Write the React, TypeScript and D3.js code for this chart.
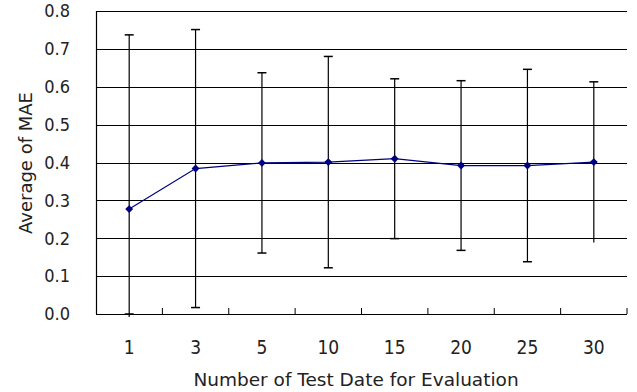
import React, { useEffect, useRef } from "react";
import * as d3 from "d3";

const categories = ["1", "3", "5", "10", "15", "20", "25", "30"];
const meanMAE = [0.277, 0.384, 0.399, 0.401, 0.41, 0.392, 0.392, 0.401];
const sdMAE = [0.46, 0.367, 0.238, 0.279, 0.211, 0.224, 0.254, 0.212];
const yTicks = [0, 0.1, 0.2, 0.3, 0.4, 0.5, 0.6, 0.7, 0.8];

const WIDTH = 637;
const HEIGHT = 392;
const MARGIN = { top: 11, right: 10, bottom: 78, left: 96 };

const App = () => {
  const ref = useRef<SVGSVGElement>(null);

  useEffect(() => {
    const INNER_WIDTH = WIDTH - MARGIN.left - MARGIN.right;
    const INNER_HEIGHT = HEIGHT - MARGIN.top - MARGIN.bottom;
    const font = "'Liberation Sans Narrow', 'DejaVu Sans Condensed', 'Liberation Sans', sans-serif";
    const wideFont = "'DejaVu Sans', sans-serif";

    const x = d3.scaleBand().domain(categories).range([0, INNER_WIDTH]);
    const y = d3.scaleLinear().domain([0, 0.8]).range([INNER_HEIGHT, 0]);

    const root = d3.select(ref.current);
    root.selectAll("*").remove();
    const svg = root
      .append("g")
      .attr("transform", "translate(" + MARGIN.left + "," + MARGIN.top + ")");

    /* gridlines */
    svg
      .selectAll(".grid")
      .data(yTicks.filter((d) => d > 0))
      .enter()
      .append("line")
      .attr("x1", 0)
      .attr("x2", INNER_WIDTH)
      .attr("y1", (d) => Math.round(y(d)) + 0.5)
      .attr("y2", (d) => Math.round(y(d)) + 0.5)
      .attr("stroke", "#000")
      .attr("stroke-width", 1.2);

    /* axes */
    svg
      .append("line")
      .attr("x1", 0.5)
      .attr("x2", 0.5)
      .attr("y1", 0)
      .attr("y2", INNER_HEIGHT)
      .attr("stroke", "#000")
      .attr("stroke-width", 1.2);
    svg
      .append("line")
      .attr("x1", 0)
      .attr("x2", INNER_WIDTH)
      .attr("y1", INNER_HEIGHT + 0.5)
      .attr("y2", INNER_HEIGHT + 0.5)
      .attr("stroke", "#000")
      .attr("stroke-width", 1.2);

    /* category ticks, pointing up */
    svg
      .selectAll(".xtick")
      .data(categories)
      .enter()
      .append("line")
      .attr("x1", (d) => (x(d) as number) + x.bandwidth())
      .attr("x2", (d) => (x(d) as number) + x.bandwidth())
      .attr("y1", INNER_HEIGHT)
      .attr("y2", INNER_HEIGHT - 6)
      .attr("stroke", "#000");

    /* y tick labels */
    svg
      .selectAll(".ylab")
      .data(yTicks)
      .enter()
      .append("text")
      .attr("x", -26)
      .attr("y", (d) => y(d))
      .attr("dy", "0.35em")
      .attr("text-anchor", "end")
      .attr("font-family", font)
      .attr("font-size", 18)
      .attr("fill", "#222")
      .text((d) => d.toFixed(1));

    /* x tick labels */
    svg
      .selectAll(".xlab")
      .data(categories)
      .enter()
      .append("text")
      .attr("x", (d) => (x(d) as number) + x.bandwidth() / 2)
      .attr("y", INNER_HEIGHT + 40)
      .attr("text-anchor", "middle")
      .attr("font-family", font)
      .attr("font-size", 19)
      .attr("fill", "#222")
      .text((d) => d);

    /* error bars */
    const cx = (i: number) => (x(categories[i]) as number) + x.bandwidth() / 2;
    const lo = (i: number) => y(Math.max(meanMAE[i] - sdMAE[i], 0));
    const hi = (i: number) => y(meanMAE[i] + sdMAE[i]);
    const bars = svg.selectAll(".err").data(meanMAE).enter().append("g");
    bars
      .append("line")
      .attr("x1", (d, i) => cx(i))
      .attr("x2", (d, i) => cx(i))
      .attr("y1", (d, i) => hi(i))
      .attr("y2", (d, i) => (meanMAE[i] - sdMAE[i] < 0 ? INNER_HEIGHT + 3 : lo(i)))
      .attr("stroke", "#000")
      .attr("stroke-width", 1.2);
    bars
      .append("line")
      .attr("x1", (d, i) => cx(i) - 4.5)
      .attr("x2", (d, i) => cx(i) + 4.5)
      .attr("y1", (d, i) => hi(i))
      .attr("y2", (d, i) => hi(i))
      .attr("stroke", "#000")
      .attr("stroke-width", 1.5);
    bars
      .filter((d, i) => meanMAE[i] - sdMAE[i] >= 0)
      .append("line")
      .attr("x1", (d, i) => cx(i) - 4.5)
      .attr("x2", (d, i) => cx(i) + 4.5)
      .attr("y1", (d, i) => lo(i))
      .attr("y2", (d, i) => lo(i))
      .attr("stroke", "#000")
      .attr("stroke-width", 1.5);

    /* mean line */
    const line = d3
      .line<number>()
      .x((d, i) => cx(i))
      .y((d) => y(d));
    svg
      .append("path")
      .datum(meanMAE)
      .attr("fill", "none")
      .attr("stroke", "#000080")
      .attr("stroke-width", 1.2)
      .attr("d", line);

    svg
      .selectAll(".pt")
      .data(meanMAE)
      .enter()
      .append("path")
      .attr("d", d3.symbol().type(d3.symbolDiamond2).size(40)())
      .attr("transform", (d, i) => "translate(" + cx(i) + "," + y(d) + ")")
      .attr("fill", "#000080");

    /* axis titles */
    svg
      .append("text")
      .attr("x", 356 - MARGIN.left)
      .attr("y", INNER_HEIGHT + 72)
      .attr("text-anchor", "middle")
      .attr("font-family", wideFont)
      .attr("font-size", 18.5)
      .attr("fill", "#222")
      .text("Number of Test Date for Evaluation");
    svg
      .append("text")
      .attr("transform", "translate(" + (32 - MARGIN.left) + "," + (163 - MARGIN.top) + ") rotate(-90)")
      .attr("text-anchor", "middle")
      .attr("font-family", wideFont)
      .attr("font-size", 18)
      .attr("fill", "#222")
      .text("Average of MAE");
  }, []);

  return (
    <svg
      ref={ref}
      width={WIDTH}
      height={HEIGHT}
      style={{ position: "absolute", left: 0, top: 0, background: "#fff" }}
    />
  );
};

export default App;
